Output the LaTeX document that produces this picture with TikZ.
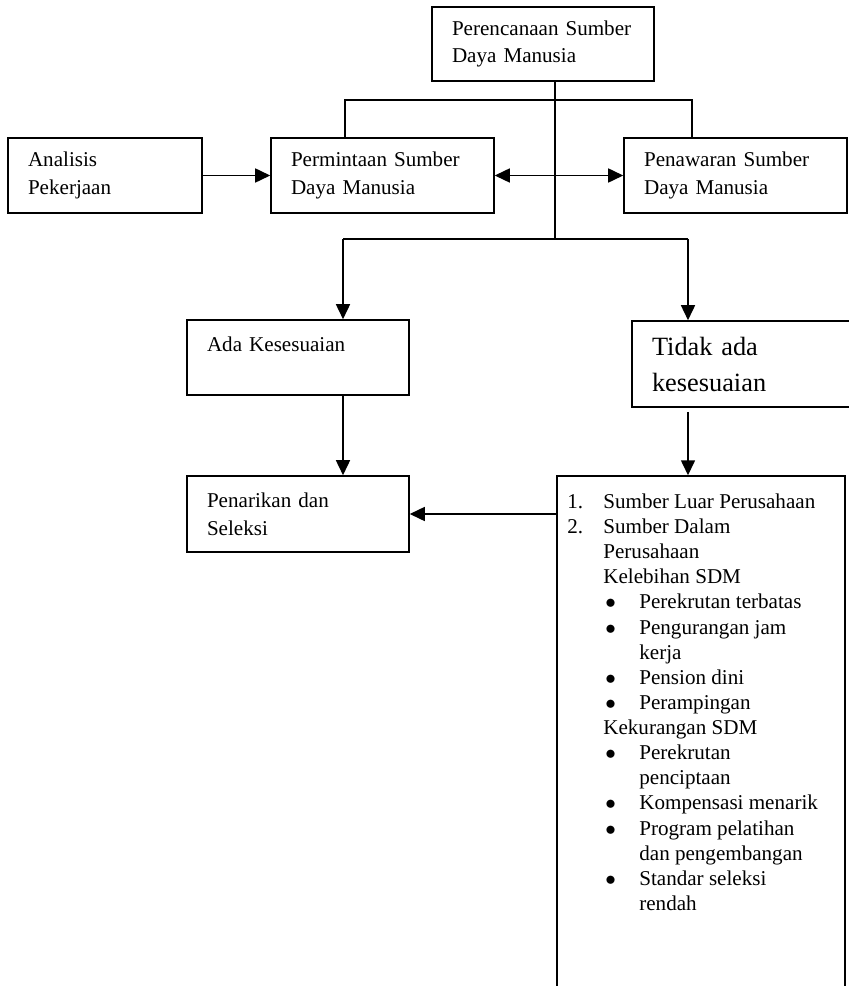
\documentclass[tikz,border=0pt]{standalone}
\usepackage{fontspec}
\setmainfont{Liberation Serif}
\usetikzlibrary{arrows.meta, positioning, calc}

% list lines of the big box
\newcommand{\numitem}[2]{\makebox[0.72cm][l]{#1}#2}
\newcommand{\subline}[1]{\hspace*{0.72cm}#1}
\newcommand{\bulitem}[1]{\hspace*{0.76cm}\makebox[0.68cm][l]{$\bullet$}#1}
\newcommand{\bulcont}[1]{\hspace*{1.44cm}#1}

\begin{document}
\begin{tikzpicture}[
    x=0.02cm, y=-0.02cm,
    >={Triangle[length=0.3cm, width=0.28cm]},
    box/.style={draw, line width=0.9pt, align=left, inner xsep=0.4cm, inner ysep=0pt,
        text width=3.64cm, minimum height=1.5cm, font=\fontsize{12}{15.7}\selectfont},
    bigbox/.style={draw, line width=0.9pt, minimum width=5.76cm, minimum height=10.5cm},
    link/.style={line width=0.9pt},
    flow/.style={->, line width=0.9pt}
]
\useasboundingbox (0,0) rectangle (848,986);

% =========================================================
% Top level
% =========================================================
\node[box, minimum height=1.48cm] (plan) at (543,44) {Perencanaan Sumber\\Daya Manusia};

\node[box, text width=3.08cm] (analisis) at (105,175.5) {Analisis\\Pekerjaan};
\node[box, text width=3.66cm] (demand)   at (382.5,175.5) {Permintaan Sumber\\Daya Manusia};
\node[box, text width=3.66cm] (supply)   at (735.5,175.5) {Penawaran Sumber\\Daya Manusia};

\coordinate (armL) at (345,100);
\coordinate (armR) at (692,100);
\coordinate (fork) at (555,239);
\coordinate (colL) at (343,239);
\coordinate (colR) at (688,239);

\draw[link] (plan.south -| fork) -- (fork);
\draw[link] (armL |- demand.north) -- (armL) -- (armR) -- (armR |- supply.north);
\draw[flow] (analisis.east) -- (demand.west);
\draw[<->, line width=0.9pt] (demand.east) -- (supply.west);

% =========================================================
% Matching
% =========================================================
\node[box] (match) at (298,357.5) {Ada Kesesuaian\\\mbox{}};
\node[box, minimum height=1.72cm, font=\fontsize{15}{20.5}\selectfont] (nomatch) at (743,364) {Tidak ada\\kesesuaian};

\draw[link] (colL) -- (colR);
\draw[flow] (colL) -- (colL |- match.north);
\draw[flow] (colR) -- (colR |- nomatch.north);

% =========================================================
% Results
% =========================================================
\node[box, minimum height=1.52cm] (recruit) at (298,514) {Penarikan dan\\Seleksi};

\node[bigbox] (action) at (701,738.5) {};
\node[anchor=north west, inner sep=0pt, align=left, font=\fontsize{12}{14.3}\selectfont] (actionlist) at (567,493.5) {
    \numitem{1.}{Sumber Luar Perusahaan}\\
    \numitem{2.}{Sumber Dalam}\\
    \subline{Perusahaan}\\
    \subline{Kelebihan SDM}\\
    \bulitem{Perekrutan terbatas}\\
    \bulitem{Pengurangan jam}\\
    \bulcont{kerja}\\
    \bulitem{Pension dini}\\
    \bulitem{Perampingan}\\
    \subline{Kekurangan SDM}\\
    \bulitem{Perekrutan}\\
    \bulcont{penciptaan}\\
    \bulitem{Kompensasi menarik}\\
    \bulitem{Program pelatihan}\\
    \bulcont{dan pengembangan}\\
    \bulitem{Standar seleksi}\\
    \bulcont{rendah}
};

\draw[flow] (colL |- match.south) -- (colL |- recruit.north);
\draw[flow, shorten <=0.08cm] (colR |- nomatch.south) -- (colR |- action.north);
\draw[flow] (recruit.east -| action.west) -- (recruit.east);

\end{tikzpicture}
\end{document}
